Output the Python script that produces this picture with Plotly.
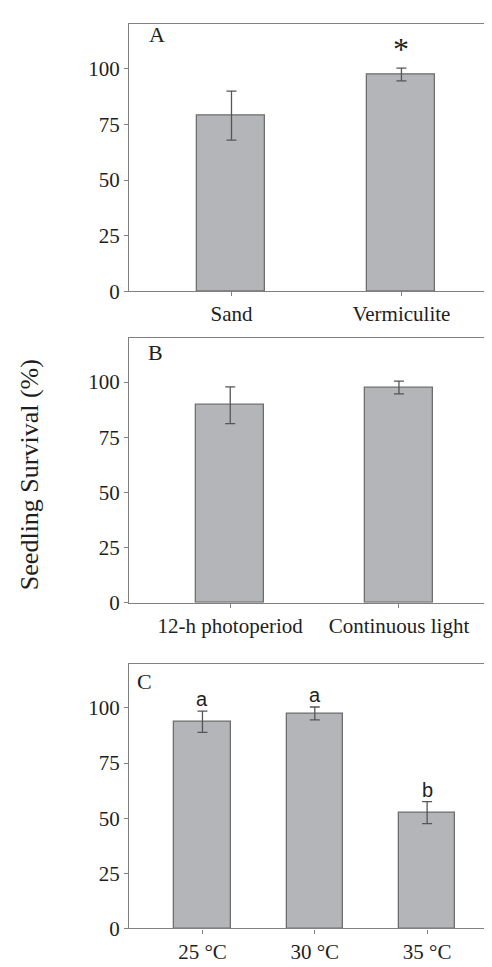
import plotly.graph_objects as go

# ---- data ----
cat_a = ["Sand", "Vermiculite"]
val_a = [79.0, 97.5]
err_a = [11.0, 2.9]
sig_a = ["", "*"]

cat_b = ["12-h photoperiod", "Continuous light"]
val_b = [89.5, 97.5]
err_b = [8.3, 2.9]

cat_c = ["25 °C", "30 °C", "35 °C"]
val_c = [93.7, 97.5, 52.5]
err_c = [4.8, 2.9, 5.0]
sig_c = ["a", "a", "b"]

y_ticks = [0, 25, 50, 75, 100]
panel_labels = ["A", "B", "C"]
y_title = "Seedling Survival (%)"

# ---- style ----
W, H = 492, 967
BAR = "#b4b5b8"
BAR_LINE = "#6e6e6e"
AX = "#808080"
TXT = "#1e1e1e"
SERIF = "Liberation Serif"
SANS = "Liberation Sans"

# pixel boxes (left, top, right, bottom)
boxes = [(121, 16.7, 491, 286.7), (121, 334, 491, 602.3), (121, 664, 491, 932)]
xranges = [[-0.603, 1.574], [-0.6, 1.593], [-0.654, 2.64]]
bar_widths = [0.4, 0.4, 0.5]
letter_shift = [(18, 4), (17, 0), (6, -3)]

fig = go.Figure()
panels = [(cat_a, val_a, err_a), (cat_b, val_b, err_b), (cat_c, val_c, err_c)]
annotations = []
for i, (cats, vals, errs) in enumerate(panels):
    n = "" if i == 0 else str(i + 1)
    fig.add_trace(go.Bar(
        x=cats, y=vals, width=bar_widths[i],
        marker=dict(color=BAR, line=dict(color=BAR_LINE, width=1.3)),
        error_y=dict(type="data", array=errs, color="#555555", thickness=1.3, width=5),
        xaxis="x" + n, yaxis="y" + n, showlegend=False,
    ))
    l, t, r, b = boxes[i]
    xd = [l / W, r / W]
    yd = [1 - b / H, 1 - t / H]
    fig.layout["xaxis" + n] = dict(
        domain=xd, range=xranges[i], anchor="y" + n, showline=True, mirror=True,
        linecolor=AX, linewidth=1.3, ticks="outside", ticklen=4, tickcolor=AX,
        tickwidth=1.3, tickfont=dict(family=SERIF, size=21, color=TXT),
        showgrid=False, fixedrange=True, ticklabelstandoff=0,
    )
    fig.layout["yaxis" + n] = dict(
        domain=yd, range=[0, 120], anchor="x" + n, showline=True, mirror=True,
        linecolor=AX, linewidth=1.3, ticks="outside", ticklen=4, tickcolor=AX,
        tickwidth=1.3, tickvals=y_ticks, tickfont=dict(family=SERIF, size=21, color=TXT),
        showgrid=False, zeroline=False, fixedrange=True,
    )
    # panel letter
    dx, dy = letter_shift[i]
    annotations.append(dict(
        text=panel_labels[i], xref="x" + n + " domain", yref="y" + n + " domain",
        x=0, y=1, xanchor="left", yanchor="top",
        xshift=dx, yshift=dy, showarrow=False,
        font=dict(family=SERIF, size=22, color=TXT),
    ))

# significance marks
for c, v, e, s in zip(cat_a, val_a, err_a, sig_a):
    if s:
        annotations.append(dict(text=s, x=c, y=v + e, xref="x", yref="y",
                                yanchor="bottom", yshift=-1, showarrow=False,
                                font=dict(family=SERIF, size=32, color=TXT)))
for c, v, e, s in zip(cat_c, val_c, err_c, sig_c):
    annotations.append(dict(text=s, x=c, y=v + e, xref="x3", yref="y3",
                            yanchor="bottom", yshift=-1, showarrow=False,
                            font=dict(family=SANS, size=20, color=TXT)))

annotations.append(dict(text=y_title, xref="paper", yref="paper", x=21 / W, y=1 - 473 / H,
                        xanchor="center", yanchor="middle", textangle=-90, showarrow=False,
                        font=dict(family=SERIF, size=26, color=TXT)))

fig.update_layout(
    width=W, height=H, margin=dict(l=0, r=0, t=0, b=0),
    paper_bgcolor="white", plot_bgcolor="white",
    annotations=annotations, bargap=0,
    font=dict(family=SERIF, color=TXT),
)
fig.write_html("out.html")
